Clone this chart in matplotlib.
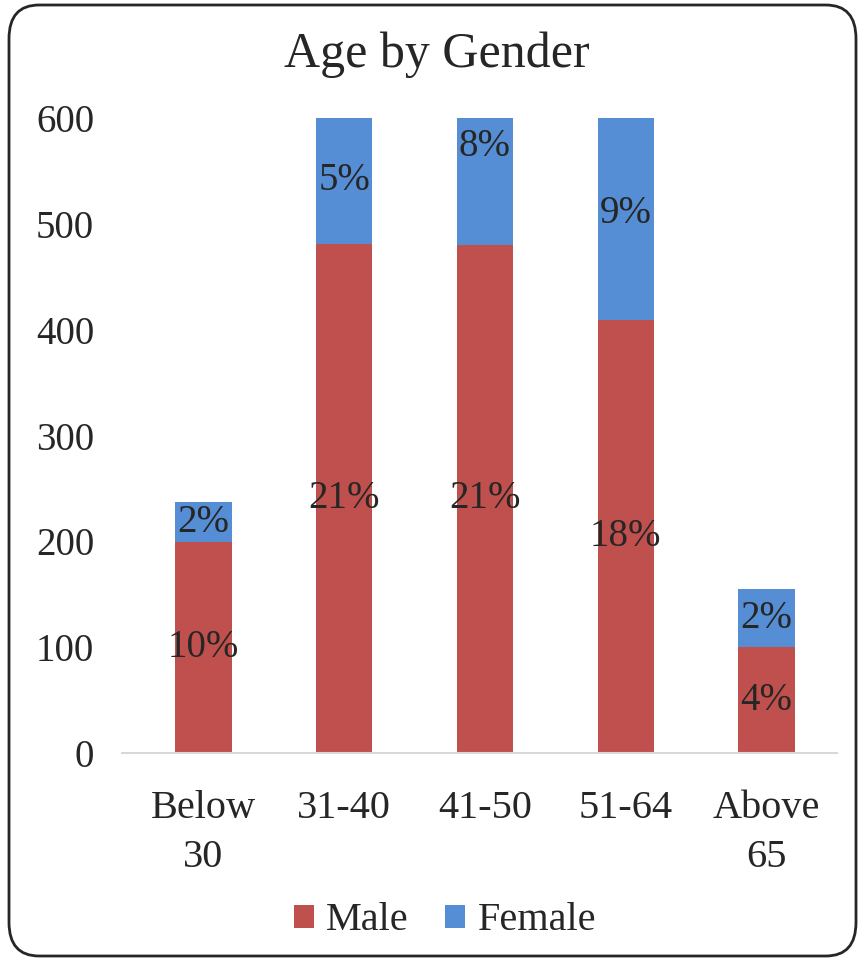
import matplotlib.pyplot as plt
from matplotlib.patches import FancyBboxPatch

categories = ["Below\n30", "31-40", "41-50", "51-64", "Above\n65"]
male = [199, 481, 480, 409, 100]
female = [38, 120, 186, 202, 55]
male_pct = ["10%", "21%", "21%", "18%", "4%"]
female_pct = ["2%", "5%", "8%", "9%", "2%"]

red = "#C0504D"
blue = "#558ED5"
txt = "#262626"

plt.rcParams['font.family'] = ['Liberation Serif', 'DejaVu Serif']

fig = plt.figure(figsize=(8.6, 9.61), dpi=100)
ax = fig.add_axes([133 / 860, 1 - 753 / 961, 704 / 860, 635 / 961])

x = range(len(categories))
ax.bar(x, male, width=0.4, color=red, label="Male", zorder=2)
ax.bar(x, female, width=0.4, bottom=male, color=blue, label="Female", zorder=2)

for i in x:
    ax.text(i, male[i] / 2, male_pct[i], ha="center", va="center",
            fontsize=28, color=txt, zorder=3)
    ax.text(i, male[i] + female[i] / 2, female_pct[i], ha="center", va="center",
            fontsize=28, color=txt, zorder=3, clip_on=True)

ax.set_ylim(0, 600)
ax.set_xlim(-0.5, 4.5)
ax.set_yticks([0, 100, 200, 300, 400, 500, 600])
ax.set_xticks(list(x))
ax.set_xticklabels(categories, fontsize=29, color=txt, linespacing=1.4)
ax.tick_params(axis="y", labelsize=28, labelcolor=txt, length=0, pad=28)
ax.tick_params(axis="x", length=0, pad=27)
for s in ["top", "right", "left"]:
    ax.spines[s].set_visible(False)
ax.spines["bottom"].set_color("#D9D9D9")
ax.spines["bottom"].set_linewidth(1.5)
ax.spines["bottom"].set_bounds(-0.58, 4.5)

fig.text(437 / 860, 1 - 55 / 961, "Age by Gender", ha="center", va="center",
         fontsize=36, color=txt)

ax.legend(loc="center", bbox_to_anchor=(445 / 860, 1 - 921 / 961),
          bbox_transform=fig.transFigure, ncol=2, frameon=False,
          fontsize=29, handlelength=0.5, handleheight=0.5,
          handletextpad=0.3, columnspacing=0.9, labelcolor=txt)

frame = FancyBboxPatch((9 / 860, 5 / 961), 847 / 860, 951 / 961,
                       boxstyle="round,pad=0,rounding_size=0.035",
                       transform=fig.transFigure, fill=False,
                       edgecolor="#262626", linewidth=2, zorder=10)
fig.patches.append(frame)

fig.savefig("out.png", dpi=100)
